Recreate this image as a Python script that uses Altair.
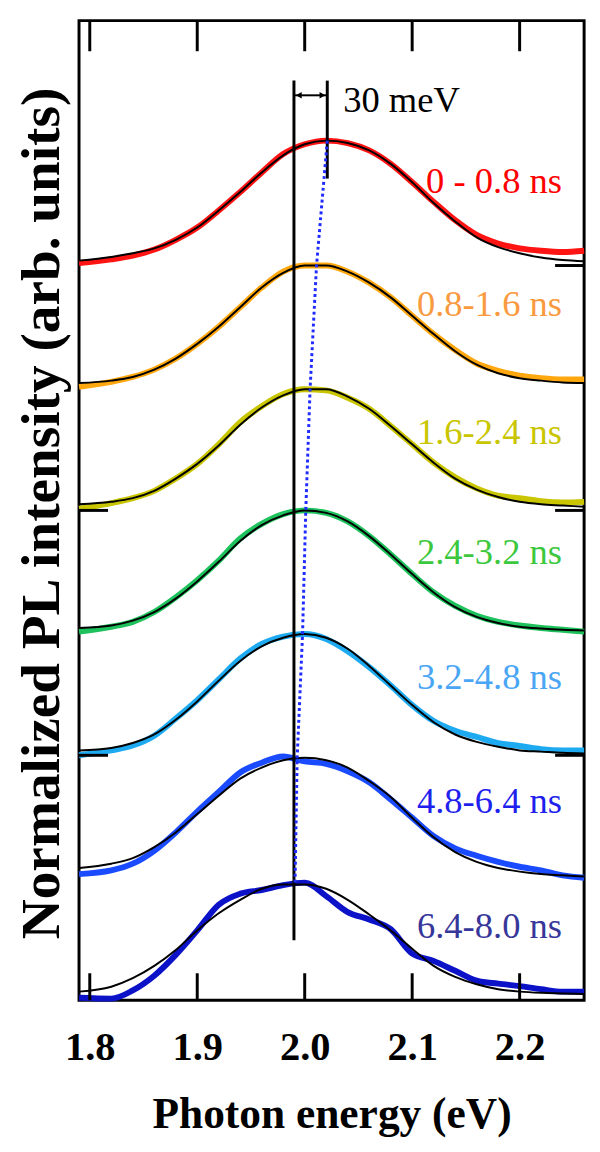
import altair as alt
import pandas as pd

# ---------------- data ----------------
energy = [1.79, 1.82, 1.84, 1.86, 1.88, 1.90, 1.92, 1.94, 1.96, 1.98, 2.00, 2.02,
          2.04, 2.06, 2.08, 2.10, 2.12, 2.14, 2.16, 2.18, 2.20, 2.22, 2.24, 2.26]

series = ["0 - 0.8 ns", "0.8-1.6 ns", "1.6-2.4 ns", "2.4-3.2 ns",
          "3.2-4.8 ns", "4.8-6.4 ns", "6.4-8.0 ns"]
offsets = [6, 5, 4, 3, 2, 1, 0]

pl_0_08 = [0.02, 0.05, 0.08, 0.13, 0.21, 0.31, 0.45, 0.60, 0.76, 0.91, 0.99, 1.02,
           1.00, 0.94, 0.83, 0.68, 0.52, 0.37, 0.25, 0.18, 0.14, 0.12, 0.11, 0.12]
fit_0_08 = [0.04, 0.07, 0.10, 0.14, 0.21, 0.31, 0.45, 0.60, 0.76, 0.90, 0.99, 1.02,
            1.00, 0.94, 0.83, 0.68, 0.51, 0.36, 0.23, 0.15, 0.10, 0.065, 0.045, 0.035]

pl_08_16 = [0.01, 0.05, 0.09, 0.15, 0.24, 0.36, 0.50, 0.66, 0.82, 0.95, 1.00, 1.00,
            0.95, 0.86, 0.74, 0.59, 0.44, 0.31, 0.20, 0.14, 0.10, 0.08, 0.07, 0.07]
fit_08_16 = [0.04, 0.06, 0.09, 0.15, 0.24, 0.36, 0.50, 0.66, 0.82, 0.94, 1.00, 1.00,
             0.95, 0.86, 0.74, 0.59, 0.44, 0.30, 0.19, 0.12, 0.08, 0.06, 0.045, 0.04]

pl_16_24 = [0.015, 0.06, 0.10, 0.16, 0.26, 0.38, 0.54, 0.72, 0.85, 0.95, 0.99, 0.98,
            0.92, 0.83, 0.69, 0.54, 0.39, 0.27, 0.18, 0.12, 0.10, 0.075, 0.065, 0.07]
fit_16_24 = [0.05, 0.07, 0.10, 0.16, 0.26, 0.38, 0.53, 0.70, 0.84, 0.94, 0.99, 0.99,
             0.93, 0.83, 0.69, 0.54, 0.39, 0.26, 0.17, 0.11, 0.07, 0.05, 0.04, 0.03]

pl_24_32 = [0.01, 0.05, 0.09, 0.17, 0.29, 0.43, 0.59, 0.77, 0.89, 0.97, 1.00, 0.98,
            0.91, 0.79, 0.64, 0.48, 0.33, 0.22, 0.14, 0.09, 0.06, 0.04, 0.025, 0.01]
fit_24_32 = [0.04, 0.06, 0.10, 0.17, 0.28, 0.42, 0.58, 0.75, 0.88, 0.96, 1.00, 0.98,
             0.91, 0.79, 0.64, 0.48, 0.33, 0.21, 0.13, 0.08, 0.05, 0.035, 0.025, 0.02]

pl_32_48 = [0.0, 0.04, 0.08, 0.16, 0.30, 0.45, 0.62, 0.79, 0.91, 0.97, 0.99, 0.95,
            0.85, 0.72, 0.57, 0.41, 0.28, 0.20, 0.15, 0.10, 0.076, 0.05, 0.04, 0.04]
fit_32_48 = [0.04, 0.06, 0.10, 0.17, 0.29, 0.44, 0.61, 0.77, 0.89, 0.96, 0.99, 0.96,
             0.87, 0.73, 0.57, 0.41, 0.27, 0.17, 0.11, 0.07, 0.04, 0.03, 0.02, 0.015]

pl_48_64 = [0.03, 0.06, 0.115, 0.22, 0.37, 0.54, 0.70, 0.86, 0.94, 0.99, 0.95, 0.93,
            0.87, 0.78, 0.64, 0.49, 0.34, 0.24, 0.18, 0.13, 0.09, 0.06, 0.02, 0.0]
fit_48_64 = [0.08, 0.115, 0.16, 0.25, 0.37, 0.52, 0.67, 0.81, 0.90, 0.96, 0.98, 0.96,
             0.90, 0.79, 0.66, 0.49, 0.33, 0.21, 0.13, 0.08, 0.05, 0.03, 0.02, 0.01]

pl_64_80 = [0.02, 0.013, 0.08, 0.20, 0.37, 0.57, 0.78, 0.87, 0.90, 0.94, 0.96, 0.85,
            0.72, 0.66, 0.58, 0.38, 0.32, 0.24, 0.16, 0.135, 0.115, 0.09, 0.07, 0.07]
fit_64_80 = [0.07, 0.11, 0.18, 0.28, 0.41, 0.57, 0.71, 0.82, 0.91, 0.945, 0.945, 0.91,
             0.82, 0.70, 0.57, 0.42, 0.28, 0.19, 0.13, 0.09, 0.07, 0.06, 0.055, 0.05]

pl_all = [pl_0_08, pl_08_16, pl_16_24, pl_24_32, pl_32_48, pl_48_64, pl_64_80]
fit_all = [fit_0_08, fit_08_16, fit_16_24, fit_24_32, fit_32_48, fit_48_64, fit_64_80]

# fitted peak positions (blue dotted guide)
peak_energy = [2.021, 2.011, 2.005, 2.001, 1.998, 1.993, 1.991]
peak_height = [1.02, 1.00, 0.99, 1.00, 0.99, 0.98, 0.945]

# label positions (y, in offset units)
label_y = [6.68, 5.68, 4.63, 3.65, 2.63, 1.62, 0.60]

x_ticks = [1.8, 1.9, 2.0, 2.1, 2.2]

# styles
line_colors = ["#ff1414", "#ffa70f", "#c9c500", "#1ec25c", "#1eaaf0", "#1a4bff", "#0c12c8"]
label_colors = ["#ff0000", "#f99a40", "#c9c500", "#3cc83c", "#4aa6f5", "#1f1fee", "#37379a"]

# ---------------- build tables ----------------
rows = []
for s, off, pl, ft, lc in zip(series, offsets, pl_all, fit_all, line_colors):
    for e, a, b in zip(energy, pl, ft):
        rows.append({"series": s, "E": e, "pl": a + off, "fit": b + off, "lc": lc})
spec = pd.DataFrame(rows)

peaks = pd.DataFrame({"E": peak_energy,
                      "y": [h + o for h, o in zip(peak_height, offsets)],
                      "order": list(range(len(peak_energy)))})

labels = pd.DataFrame({"series": series, "y": label_y, "c": label_colors, "E": [2.2394] * 7})

xs = alt.Scale(domain=[1.79, 2.26], nice=False, zero=False)
ys = alt.Scale(domain=[0, 8], nice=False, zero=False)
FONT = "Liberation Serif"

x_axis = alt.Axis(values=x_ticks, format=".1f", ticks=False, tickSize=0, domain=False,
                  grid=False, labelFont=FONT, labelFontSize=41, labelFontWeight="bold",
                  labelColor="black", labelPadding=28, labelBaseline="top",
                  title="Photon energy (eV)", titleFont=FONT, titleFontSize=44,
                  titleFontWeight="bold", titleColor="black",
                  titleBaseline="alphabetic", titleY=129)
y_axis = alt.Axis(labels=False, ticks=False, domain=False, grid=False,
                  title="Normalized PL intensity (arb. units)", titleFont=FONT,
                  titleFontSize=56, titleFontWeight="bold", titleColor="black",
                  titleAngle=-90, titleAlign="center", titleBaseline="alphabetic",
                  titleX=-21, titleY=499)


def X(field):
    return alt.X(field, scale=xs, axis=x_axis)


def Y(field):
    return alt.Y(field, scale=ys, axis=y_axis)


base = alt.Chart(spec)

data_lines = base.mark_line(strokeWidth=6, interpolate="monotone").encode(
    x=X("E:Q"), y=Y("pl:Q"),
    color=alt.Color("lc:N", scale=None),
    detail="series:N",
)

fit_lines = base.mark_line(strokeWidth=2, color="black", interpolate="monotone").encode(
    x=X("E:Q"), y=Y("fit:Q"),
    detail="series:N",
)

peak_line = alt.Chart(peaks).mark_line(color="#1f2bff", strokeWidth=3, strokeDash=[3, 3]).encode(
    x=X("E:Q"), y=Y("y:Q"), order="order:Q",
)

vrules = alt.Chart(pd.DataFrame({"E": [1.990, 2.021], "y": [7.51, 7.51], "y2": [0.49, 6.71]})).mark_rule(
    color="black", strokeWidth=3).encode(
    x=X("E:Q"), y=Y("y:Q"), y2="y2:Q",
)

arrow = alt.Chart(pd.DataFrame({"E": [1.991], "E2": [2.020], "y": [7.39]})).mark_rule(
    color="black", strokeWidth=2).encode(
    x=X("E:Q"), x2="E2:Q", y=Y("y:Q"),
)
heads = alt.Chart(pd.DataFrame({"E": [1.9945, 2.0165], "y": [7.39, 7.39],
                                "shape": ["triangle-left", "triangle-right"]})).mark_point(
    filled=True, color="black", size=45, opacity=1).encode(
    x=X("E:Q"), y=Y("y:Q"),
    shape=alt.Shape("shape:N", scale=None),
)

mev = alt.Chart(pd.DataFrame({"E": [2.0358], "y": [7.34], "t": ["30 meV"]})).mark_text(
    align="left", baseline="middle", font=FONT, fontSize=37, color="black").encode(
    x=X("E:Q"), y=Y("y:Q"), text="t:N",
)

label_text = alt.Chart(labels).mark_text(align="right", baseline="middle", font=FONT,
                                          fontSize=37).encode(
    x=X("E:Q"), y=Y("y:Q"), text="series:N",
    color=alt.Color("c:N", scale=None),
)

tick_rows = []
for t in x_ticks:
    tick_rows.append({"E": t, "y": 0.0, "y2": 0.22})
    tick_rows.append({"E": t, "y": 8.0, "y2": 7.75})
ticks = alt.Chart(pd.DataFrame(tick_rows)).mark_rule(color="black", strokeWidth=3).encode(
    x=X("E:Q"), y=Y("y:Q"), y2="y2:Q",
)

dash_rows = [
    {"E": 2.233, "E2": 2.26, "y": 6.0},
    {"E": 2.233, "E2": 2.26, "y": 4.0},
    {"E": 2.233, "E2": 2.26, "y": 2.0},
    {"E": 1.79, "E2": 1.817, "y": 4.0},
    {"E": 1.79, "E2": 1.817, "y": 2.0},
]
dashes = alt.Chart(pd.DataFrame(dash_rows)).mark_rule(color="black", strokeWidth=3).encode(
    x=X("E:Q"), x2="E2:Q", y=Y("y:Q"),
)

chart = alt.layer(
    data_lines, dashes, fit_lines, vrules, peak_line, arrow, heads, mev, label_text, ticks
).properties(
    width=512, height=993,
    autosize=alt.AutoSizeParams(type="none"),
    padding={"left": 72, "top": 5, "right": 8, "bottom": 140},
    background="white",
).configure_view(
    stroke="black", strokeWidth=3
)

chart.save("out.html", embed_options={"renderer": "svg", "actions": False})
